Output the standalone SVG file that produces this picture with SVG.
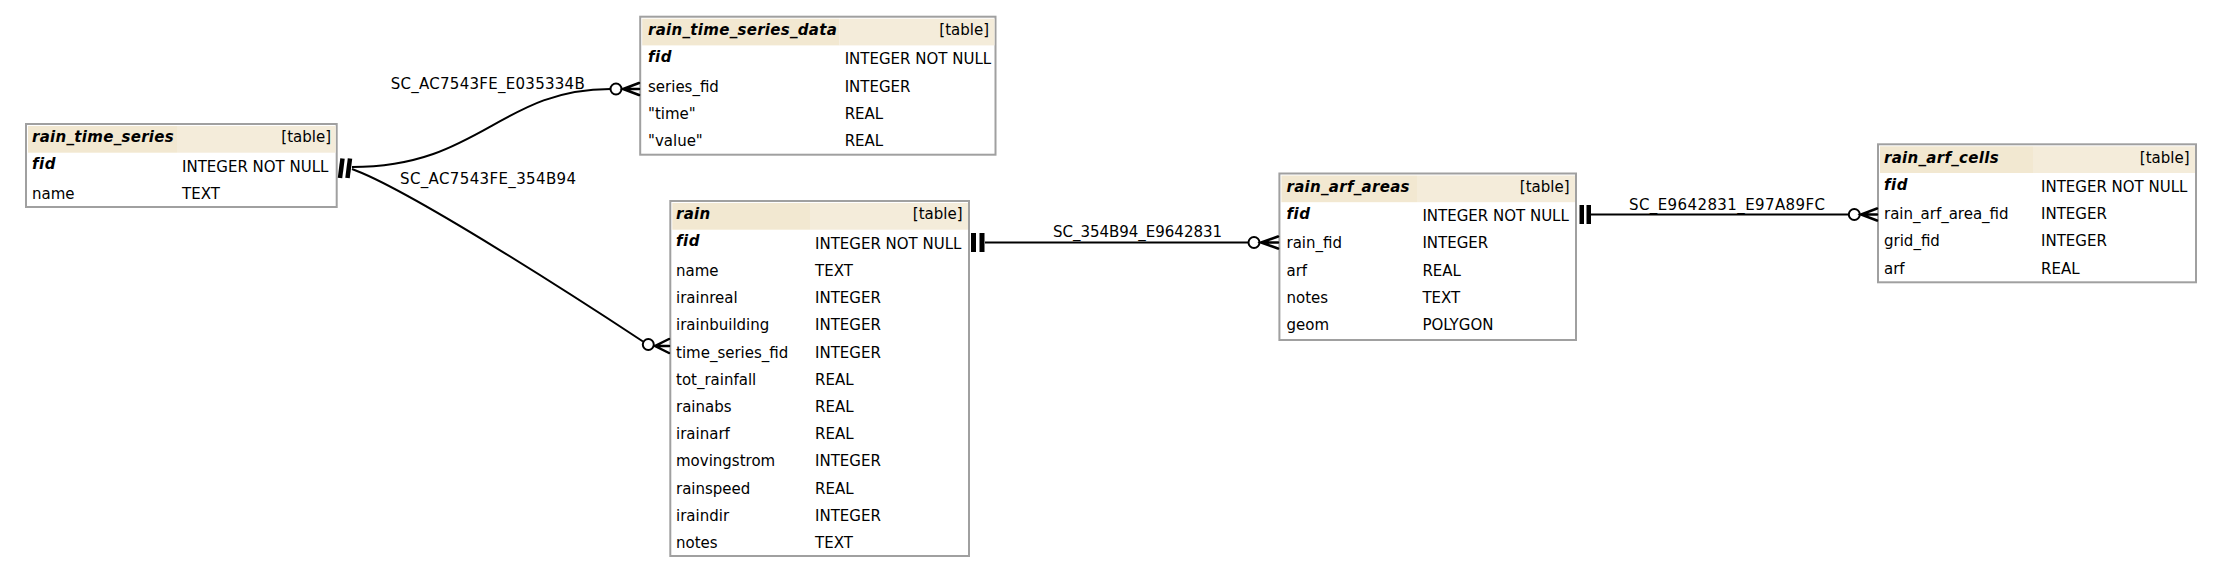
<svg xmlns="http://www.w3.org/2000/svg" width="2221" height="573" viewBox="0 0 2221 573">
<style>
.box{fill:#ffffff;stroke:#a0a0a0;stroke-width:2}
.hl{fill:#f2e8d1}
.hr{fill:#f4ecda}
text{font-family:"DejaVu Sans","Liberation Sans",sans-serif;font-size:15px;fill:#000}
.tn{font-weight:bold;font-style:italic;letter-spacing:0.3px}
.pk{font-weight:bold;font-style:italic;letter-spacing:0.5px}
.tt{text-anchor:end}
.ln{fill:none;stroke:#000;stroke-width:2}
.bar{fill:#000}
.cr{fill:#fff;stroke:#000;stroke-width:2}
.ft{fill:none;stroke:#000;stroke-width:2.5;stroke-linecap:round}
</style>
<rect width="2221" height="573" fill="#ffffff"/>

<g id="rain_time_series">
<rect class="box" x="26" y="124" width="310.7" height="83"/>
<rect class="hl" x="28" y="126" width="149" height="26.7"/>
<rect class="hr" x="177" y="126" width="158.7" height="26.7"/>
<text class="tn" x="32" y="142.3">rain_time_series</text>
<text class="tt" x="331" y="142.3">[table]</text>
<text class="pk" x="32" y="169.2">fid</text>
<text x="182" y="171.7">INTEGER NOT NULL</text>
<text x="32" y="198.9">name</text>
<text x="182" y="198.9">TEXT</text>
</g>

<g id="rain_time_series_data">
<rect class="box" x="640.2" y="16.7" width="355.3" height="138"/>
<rect class="hl" x="642.2" y="18.7" width="197.3" height="26.7"/>
<rect class="hr" x="839.5" y="18.7" width="155" height="26.7"/>
<text class="tn" x="648" y="35">rain_time_series_data</text>
<text class="tt" x="989" y="35">[table]</text>
<text class="pk" x="648" y="61.9">fid</text>
<text x="844.7" y="64.4">INTEGER NOT NULL</text>
<text x="648" y="91.6">series_fid</text>
<text x="844.7" y="91.6">INTEGER</text>
<text x="648" y="118.8">"time"</text>
<text x="844.7" y="118.8">REAL</text>
<text x="648" y="146">"value"</text>
<text x="844.7" y="146">REAL</text>
</g>

<g id="rain">
<rect class="box" x="670.3" y="201" width="298.7" height="355"/>
<rect class="hl" x="672.3" y="203" width="137.7" height="26.7"/>
<rect class="hr" x="810" y="203" width="158" height="26.7"/>
<text class="tn" x="676" y="219.3">rain</text>
<text class="tt" x="962.5" y="219.3">[table]</text>
<text class="pk" x="676" y="246.2">fid</text>
<text x="815" y="248.7">INTEGER NOT NULL</text>
<text x="676" y="275.9">name</text>
<text x="815" y="275.9">TEXT</text>
<text x="676" y="303.1">irainreal</text>
<text x="815" y="303.1">INTEGER</text>
<text x="676" y="330.3">irainbuilding</text>
<text x="815" y="330.3">INTEGER</text>
<text x="676" y="357.5">time_series_fid</text>
<text x="815" y="357.5">INTEGER</text>
<text x="676" y="384.7">tot_rainfall</text>
<text x="815" y="384.7">REAL</text>
<text x="676" y="411.9">rainabs</text>
<text x="815" y="411.9">REAL</text>
<text x="676" y="439.1">irainarf</text>
<text x="815" y="439.1">REAL</text>
<text x="676" y="466.3">movingstrom</text>
<text x="815" y="466.3">INTEGER</text>
<text x="676" y="493.5">rainspeed</text>
<text x="815" y="493.5">REAL</text>
<text x="676" y="520.7">iraindir</text>
<text x="815" y="520.7">INTEGER</text>
<text x="676" y="547.9">notes</text>
<text x="815" y="547.9">TEXT</text>
</g>

<g id="rain_arf_areas">
<rect class="box" x="1279.4" y="173.5" width="296.6" height="166.5"/>
<rect class="hl" x="1281.4" y="175.5" width="135.6" height="26.7"/>
<rect class="hr" x="1417" y="175.5" width="158" height="26.7"/>
<text class="tn" x="1286.5" y="191.8">rain_arf_areas</text>
<text class="tt" x="1569.5" y="191.8">[table]</text>
<text class="pk" x="1286.5" y="218.7">fid</text>
<text x="1422.4" y="221.2">INTEGER NOT NULL</text>
<text x="1286.5" y="248.4">rain_fid</text>
<text x="1422.4" y="248.4">INTEGER</text>
<text x="1286.5" y="275.6">arf</text>
<text x="1422.4" y="275.6">REAL</text>
<text x="1286.5" y="302.8">notes</text>
<text x="1422.4" y="302.8">TEXT</text>
<text x="1286.5" y="330">geom</text>
<text x="1422.4" y="330">POLYGON</text>
</g>

<g id="rain_arf_cells">
<rect class="box" x="1878" y="144.3" width="318" height="138"/>
<rect class="hl" x="1880" y="146.3" width="153" height="26.7"/>
<rect class="hr" x="2033" y="146.3" width="162" height="26.7"/>
<text class="tn" x="1884" y="162.6">rain_arf_cells</text>
<text class="tt" x="2189.5" y="162.6">[table]</text>
<text class="pk" x="1884" y="189.5">fid</text>
<text x="2041" y="192">INTEGER NOT NULL</text>
<text x="1884" y="219.2">rain_arf_area_fid</text>
<text x="2041" y="219.2">INTEGER</text>
<text x="1884" y="246.4">grid_fid</text>
<text x="2041" y="246.4">INTEGER</text>
<text x="1884" y="273.6">arf</text>
<text x="2041" y="273.6">REAL</text>
</g>

<g id="connectors">
<path class="ln" d="M352,167 C480,167 500,89 610.5,89"/>
<circle class="cr" cx="616" cy="89" r="5.5"/>
<path class="ft" d="M639,83 L623,89 L639,95 M623,89 L639,89"/>
<text x="390.7" y="89.3" textLength="194" lengthAdjust="spacing">SC_AC7543FE_E035334B</text>

<path class="ln" d="M352,169 C410,190 580,300 643,341.5"/>
<circle class="cr" cx="648.3" cy="344.5" r="5.5"/>
<path class="ft" d="M669,339 L655,346 L669,353 M655,346 L669,346"/>
<text x="400" y="184.3" textLength="176" lengthAdjust="spacing">SC_AC7543FE_354B94</text>
<line x1="342.5" y1="158.5" x2="340" y2="178" stroke="#000" stroke-width="4.5"/>
<line x1="350" y1="158.5" x2="347.5" y2="178" stroke="#000" stroke-width="4.5"/>

<line class="ln" x1="985" y1="242.5" x2="1248.5" y2="242.5"/>
<rect class="bar" x="971" y="233" width="5" height="19"/>
<rect class="bar" x="979.5" y="233" width="5" height="19"/>
<circle class="cr" cx="1254" cy="242.5" r="5.5"/>
<path class="ft" d="M1278,236.5 L1261,242.5 L1278,248.5 M1261,242.5 L1278,242.5"/>
<text x="1053" y="236.7" textLength="169" lengthAdjust="spacing">SC_354B94_E9642831</text>

<line class="ln" x1="1591" y1="214.5" x2="1848.8" y2="214.5"/>
<rect class="bar" x="1579.5" y="205" width="4.5" height="19"/>
<rect class="bar" x="1586.5" y="205" width="4.5" height="19"/>
<circle class="cr" cx="1854.3" cy="214.5" r="5.5"/>
<path class="ft" d="M1877,208.5 L1861,214.5 L1877,220.5 M1861,214.5 L1877,214.5"/>
<text x="1629" y="210" textLength="196" lengthAdjust="spacing">SC_E9642831_E97A89FC</text>
</g>
</svg>
